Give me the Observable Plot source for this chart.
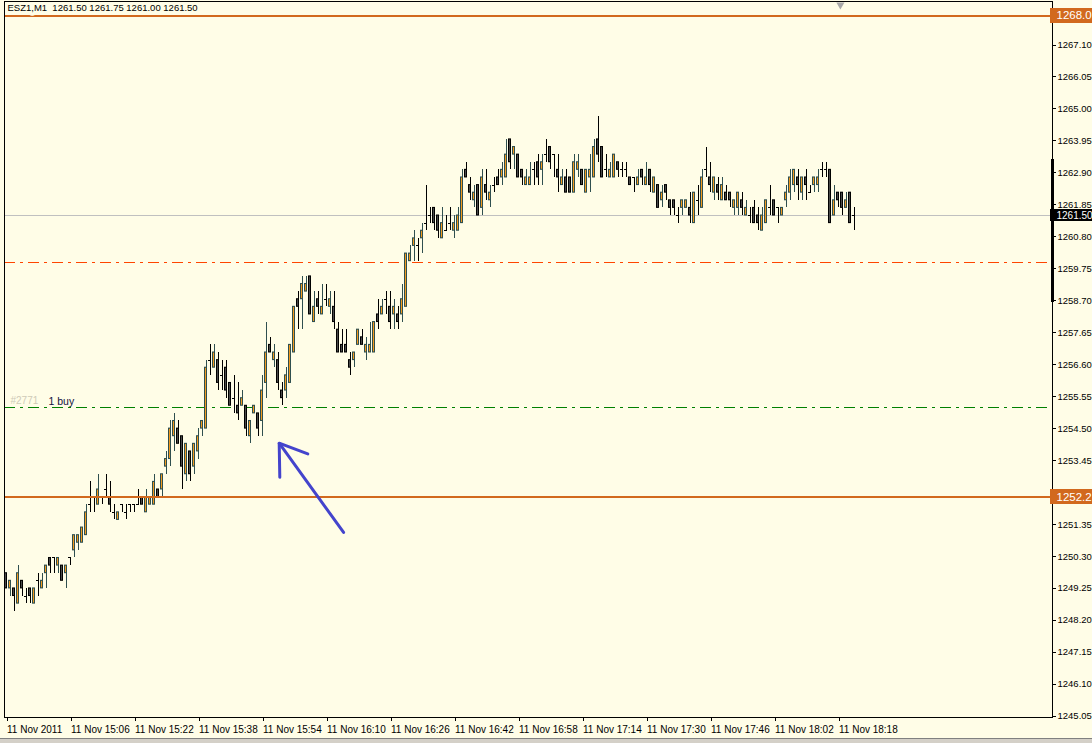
<!DOCTYPE html>
<html><head><meta charset="utf-8">
<script src="https://cdn.jsdelivr.net/npm/d3@7"></script>
<script src="https://cdn.jsdelivr.net/npm/@observablehq/plot@0.6"></script>
<style>
body{margin:0;background:#FFFDE7;overflow:hidden}
#chart svg{display:block}
#tabs{height:4px;background:#D4D0C8;border-top:1px solid #808080}
</style></head><body><div id="chart"></div><div id="tabs"></div>
<script>
const symbol = "ESZ1,M1";
const sessionDate = "2011-11-11";
const firstBarTime = "14:50";
const open = [
1249.75,1249.25,1249.25,1248.75,1249.5,1249.0,1249.25,1248.75,1249.5,1249.25,
1249.75,1250.25,1250.25,1250.0,1250.0,1249.75,1250.25,1250.5,1250.75,1250.75,
1251.0,1252.0,1252.25,1252.0,1252.25,1252.5,1252.25,1251.75,1251.5,1252.0,
1251.75,1252.0,1252.0,1252.0,1252.25,1251.75,1252.0,1252.0,1252.5,1252.5,
1253.25,1253.5,1254.25,1254.5,1254.25,1253.0,1253.75,1253.25,1253.75,1254.5,
1254.5,1256.75,1256.5,1256.75,1256.25,1256.5,1256.0,1255.5,1255.25,1255.25,
1255.25,1254.25,1255.0,1255.0,1254.75,1256.0,1257.25,1256.75,1256.75,1255.75,
1255.75,1256.0,1257.0,1258.75,1258.75,1259.0,1259.5,1258.0,1258.75,1258.25,
1258.75,1258.5,1258.5,1257.75,1257.25,1257.25,1256.75,1256.75,1257.25,1257.5,
1257.0,1257.0,1257.0,1258.25,1258.25,1258.75,1258.5,1258.25,1258.25,1258.25,
1258.5,1260.0,1260.5,1260.5,1260.75,1261.25,1261.5,1261.75,1261.5,1260.75,
1261.0,1261.25,1261.0,1261.0,1261.25,1263.0,1262.5,1262.0,1262.5,1261.75,
1262.5,1262.0,1262.5,1262.75,1262.75,1262.75,1264.0,1263.5,1263.5,1263.0,
1262.5,1262.5,1263.0,1263.25,1263.0,1263.5,1263.75,1263.5,1263.0,1262.5,
1262.75,1262.75,1262.25,1263.0,1263.0,1262.25,1262.75,1262.75,1264.0,1263.75,
1263.0,1262.75,1262.75,1263.25,1263.0,1263.0,1262.75,1262.75,1262.5,1263.0,
1262.5,1263.0,1262.25,1262.5,1262.0,1262.5,1262.0,1262.0,1261.5,1261.75,
1261.75,1261.75,1261.25,1262.0,1261.75,1263.0,1262.75,1262.25,1262.5,1262.0,
1262.25,1262.25,1261.75,1261.75,1262.0,1261.5,1261.5,1261.75,1261.5,1261.0,
1261.25,1261.75,1262.0,1261.75,1261.5,1262.0,1262.25,1262.5,1262.75,1262.25,
1262.75,1262.25,1262.5,1262.5,1263.0,1263.0,1263.0,1261.5,1262.25,1262.25,
1261.75,1262.25,1261.5];
const high = [
1249.75,1249.5,1249.25,1250.0,1249.5,1249.25,1249.25,1249.25,1249.75,1249.75,
1250.0,1250.25,1250.25,1250.25,1250.0,1250.0,1250.25,1251.0,1251.0,1251.25,
1252.0,1252.75,1252.25,1253.0,1252.25,1253.0,1252.75,1252.0,1251.75,1252.0,
1252.0,1252.0,1252.0,1252.5,1252.25,1252.5,1252.25,1253.0,1252.5,1253.0,
1253.75,1254.75,1255.0,1254.75,1254.25,1254.0,1253.75,1254.0,1254.5,1254.75,
1256.75,1257.25,1257.25,1257.0,1256.75,1256.75,1256.0,1256.25,1256.0,1255.75,
1255.25,1254.75,1255.25,1255.0,1256.25,1258.0,1257.5,1257.25,1257.0,1256.0,
1256.5,1257.25,1258.5,1259.0,1259.5,1259.5,1259.5,1259.0,1259.0,1259.25,
1259.25,1259.0,1259.0,1258.0,1257.75,1257.75,1257.0,1257.0,1257.75,1257.75,
1257.5,1258.0,1258.0,1258.75,1258.75,1259.0,1259.0,1258.75,1258.5,1259.25,
1260.25,1260.5,1261.0,1260.75,1261.25,1262.5,1261.75,1261.75,1261.5,1261.75,
1261.5,1261.75,1261.5,1261.75,1263.0,1263.25,1262.75,1262.5,1262.5,1263.0,
1263.0,1262.5,1262.75,1263.0,1263.25,1264.0,1264.0,1263.75,1263.5,1263.0,
1263.0,1263.25,1263.25,1263.5,1263.5,1264.0,1263.75,1263.5,1263.5,1263.0,
1263.0,1262.75,1263.5,1263.5,1263.0,1263.0,1263.5,1264.0,1264.75,1263.75,
1263.5,1263.25,1263.5,1263.25,1263.25,1263.25,1262.75,1262.75,1263.0,1263.0,
1263.25,1263.0,1262.75,1262.5,1262.5,1262.5,1262.0,1262.0,1261.75,1262.0,
1262.0,1262.25,1262.25,1262.5,1263.0,1263.75,1263.25,1262.75,1262.75,1262.75,
1262.5,1262.25,1262.0,1262.25,1262.25,1262.0,1261.75,1262.0,1261.75,1261.75,
1262.0,1262.5,1262.0,1261.75,1261.75,1262.5,1263.0,1263.0,1263.0,1262.75,
1263.0,1262.5,1262.75,1263.0,1263.25,1263.25,1263.0,1262.5,1262.25,1262.25,
1262.25,1262.25,1261.75];
const low = [
1249.25,1249.0,1248.5,1248.75,1249.0,1248.75,1248.75,1248.75,1249.0,1249.25,
1249.25,1249.75,1249.75,1249.75,1249.5,1249.25,1250.0,1250.25,1250.5,1250.75,
1251.0,1251.75,1251.75,1252.0,1252.0,1252.25,1251.75,1251.5,1251.5,1251.75,
1251.5,1251.75,1251.75,1252.0,1252.0,1251.75,1252.0,1252.0,1252.25,1252.25,
1253.0,1253.25,1253.75,1254.0,1252.5,1252.75,1252.75,1253.0,1253.5,1254.25,
1254.5,1256.25,1256.5,1255.75,1255.75,1255.5,1255.25,1255.0,1254.75,1255.25,
1254.25,1254.0,1255.0,1254.25,1254.25,1255.5,1257.0,1256.5,1255.75,1255.25,
1255.5,1256.0,1257.0,1257.75,1257.75,1259.0,1258.25,1258.0,1258.25,1258.25,
1258.5,1258.25,1257.75,1257.0,1257.0,1257.0,1256.25,1256.5,1257.25,1257.25,
1256.75,1257.0,1257.0,1257.75,1258.25,1258.25,1257.75,1257.75,1257.75,1258.0,
1258.5,1260.0,1260.0,1260.0,1260.25,1261.0,1261.25,1261.0,1260.75,1260.75,
1261.0,1261.0,1260.75,1261.0,1261.25,1262.75,1262.0,1261.75,1261.5,1261.5,
1262.0,1261.75,1262.25,1262.5,1262.5,1262.75,1263.0,1263.0,1262.75,1262.5,
1262.5,1262.5,1262.5,1262.5,1262.5,1263.25,1263.0,1262.75,1262.25,1262.5,
1262.25,1262.25,1262.25,1262.75,1262.5,1262.25,1262.25,1262.75,1263.25,1262.75,
1262.75,1262.75,1262.75,1262.75,1262.75,1262.75,1262.5,1262.25,1262.5,1262.5,
1262.5,1262.25,1262.25,1261.75,1261.75,1262.0,1261.5,1261.5,1261.25,1261.5,
1261.75,1261.25,1261.25,1261.5,1261.75,1262.75,1262.25,1262.0,1262.0,1262.0,
1262.0,1261.75,1261.5,1261.5,1261.5,1261.5,1261.25,1261.25,1261.0,1261.0,
1261.25,1261.5,1261.5,1261.25,1261.5,1261.75,1262.0,1262.25,1262.0,1262.0,
1262.0,1262.25,1262.25,1262.25,1262.75,1262.75,1261.25,1261.5,1261.75,1261.5,
1261.75,1261.25,1261.0];
const close = [
1249.25,1249.5,1249.0,1249.75,1249.25,1249.0,1249.0,1249.25,1249.5,1249.5,
1250.0,1250.0,1250.25,1250.25,1249.5,1250.0,1250.25,1251.0,1251.0,1251.25,
1251.75,1252.0,1252.25,1252.5,1252.25,1252.5,1252.0,1251.75,1251.75,1252.0,
1251.75,1252.0,1252.0,1252.0,1252.0,1252.25,1252.25,1252.75,1252.25,1253.0,
1253.5,1254.5,1254.75,1254.0,1253.25,1254.0,1253.0,1254.0,1254.25,1254.75,
1256.5,1256.75,1257.0,1256.0,1256.25,1255.75,1255.25,1255.5,1255.0,1255.5,
1254.5,1254.75,1255.25,1254.5,1255.75,1257.0,1257.0,1257.0,1256.0,1255.5,
1256.25,1257.25,1258.5,1258.5,1259.25,1259.25,1258.25,1258.5,1258.5,1258.5,
1258.75,1258.75,1258.0,1257.0,1257.0,1257.0,1256.5,1257.0,1257.75,1257.25,
1257.25,1257.25,1258.0,1258.0,1258.5,1258.75,1258.0,1258.5,1258.0,1258.75,
1260.25,1260.25,1260.75,1260.5,1261.0,1261.25,1261.5,1261.25,1261.0,1261.25,
1261.0,1261.25,1261.25,1261.5,1262.75,1262.75,1262.25,1262.25,1261.5,1262.75,
1262.25,1262.25,1262.5,1262.5,1263.0,1263.5,1263.25,1263.75,1262.75,1262.75,
1262.75,1262.75,1263.0,1262.75,1263.25,1263.5,1263.25,1263.5,1262.75,1262.75,
1262.25,1262.25,1263.25,1263.25,1262.5,1263.0,1263.0,1263.75,1263.5,1262.75,
1263.0,1263.0,1263.5,1263.0,1263.0,1263.0,1262.5,1262.75,1262.75,1262.75,
1262.75,1262.5,1262.75,1261.75,1262.25,1262.25,1261.75,1261.75,1261.5,1262.0,
1262.0,1261.5,1262.25,1262.0,1262.75,1263.0,1262.5,1262.75,1262.25,1262.5,
1262.0,1262.0,1262.0,1262.25,1261.75,1261.75,1261.5,1261.25,1261.25,1261.5,
1262.0,1261.75,1261.5,1261.75,1261.75,1262.25,1262.75,1263.0,1262.5,1262.75,
1262.5,1262.25,1262.75,1262.75,1263.0,1263.0,1261.25,1262.0,1262.0,1261.75,
1262.0,1261.25,1261.5];

const xTickTimes = ["14:50","15:06","15:22","15:38","15:54","16:10","16:26","16:42","16:58","17:14","17:30","17:46","18:02","18:18"];
const xTickLabels = ["11 Nov 2011","11 Nov 15:06","11 Nov 15:22","11 Nov 15:38","11 Nov 15:54","11 Nov 16:10","11 Nov 16:26","11 Nov 16:42","11 Nov 16:58","11 Nov 17:14","11 Nov 17:30","11 Nov 17:46","11 Nov 18:02","11 Nov 18:18"];
const yTicks = [1267.10,1266.05,1265.00,1263.95,1262.90,1261.85,1260.80,1259.75,1258.70,1257.65,1256.60,1255.55,1254.50,1253.45,1252.40,1251.35,1250.30,1249.25,1248.20,1247.15,1246.10,1245.05];
const yDomain = [1245.01, 1268.53];
const xDomainMinutes = [-0.375, 261.625];

const orangeLevels = [1268.06, 1252.25];
const orangeLabels = ["1268.0", "1252.2"];
const bidLevel = 1261.50;
const redLevel = 1259.97;
const buyLevel = 1255.20;
const buyLabelFaded = "#2771";
const buyLabel = "1 buy";
const rangeBar = [1258.65, 1263.35];
// arrow drawn on chart, [minutes from first bar, price]
const arrowHead = [[75.45, 1253.67], [68.3, 1254.02], [68.45, 1252.90]];
const arrowShaft = [[68.3, 1254.02], [84.4, 1251.09]];
const shiftMarker = [208.6, 1268.42];

// colors
const bg = "#FFFDE7";
const bullFill = "#F39A1E", bullEdge = "#2F4F4F";
const bearFill = "#4A4A4A", bearEdge = "#000000";
const orange = "#D2691E";

const t0 = Date.parse(`${sessionDate}T${firstBarTime}:00Z`);
const tm = m => new Date(t0 + m * 60000);
const bars = open.map((o, i) => ({t: tm(i), i, o, h: high[i], l: low[i], c: close[i]}));
const ups = bars.filter(d => d.c > d.o), downs = bars.filter(d => d.c < d.o), dojis = bars.filter(d => d.c === d.o);
const last = bars[bars.length - 1];
const header = `${symbol}  ${last.o.toFixed(2)} ${last.h.toFixed(2)} ${last.l.toFixed(2)} ${last.c.toFixed(2)}`;
const tickDates = xTickTimes.map(s => new Date(Date.parse(`${sessionDate}T${s}:00Z`)));
const labelOf = new Map(tickDates.map((d, k) => [+d, xTickLabels[k]]));
const xMin = tm(xDomainMinutes[0]), xMax = tm(xDomainMinutes[1]);
const off = (d, pxs) => new Date(+d + (pxs / 4) * 60000); // 4 px per one-minute bar

const boxes = [
  {p: orangeLevels[0], label: orangeLabels[0], fill: orange, h: 0.24, size: 11.5},
  {p: bidLevel, label: bidLevel.toFixed(2), fill: "#000", h: 0.2, size: 10},
  {p: orangeLevels[1], label: orangeLabels[1], fill: orange, h: 0.24, size: 11.5}
];

const crisp = {shapeRendering: "crispEdges"};
const chart = Plot.plot({
  width: 1092, height: 738,
  marginLeft: 4, marginRight: 40, marginTop: 1, marginBottom: 21,
  style: {background: bg, fontFamily: "'Liberation Sans', Arial, sans-serif", fontSize: "10px", color: "#000"},
  x: {type: "utc", domain: [xMin, xMax], label: null},
  y: {domain: yDomain, label: null},
  marks: [
    Plot.ruleY([bidLevel], {stroke: "#C0C0C0", ...crisp}),
    Plot.ruleY([redLevel], {stroke: "#FF4500", strokeDasharray: "11,5,3,5", ...crisp}),
    Plot.ruleY([buyLevel], {stroke: "#008000", strokeDasharray: "11,5,3,5", ...crisp}),
    Plot.text([buyLabelFaded], {x: () => xMin, y: () => buyLevel, dx: 6, dy: -6, textAnchor: "start", fill: "#CFCBB8", fontSize: 10}),
    Plot.text([buyLabel], {x: () => xMin, y: () => buyLevel, dx: 44, dy: -6, textAnchor: "start", fill: "#101040", fontSize: 10.5}),
    // wicks
    Plot.ruleX(ups, {x: "t", y1: "l", y2: "h", stroke: bullEdge, ...crisp}),
    Plot.ruleX(downs.concat(dojis), {x: "t", y1: "l", y2: "h", stroke: bearEdge, ...crisp}),
    // bodies: outer edge rect + inner fill rect
    Plot.rect(ups, {x1: d => off(d.t, -1.5), x2: d => off(d.t, 1.5), y1: "o", y2: "c", fill: bullEdge, insetTop: -0.5, insetBottom: -0.5}),
    Plot.rect(ups, {x1: d => off(d.t, -0.5), x2: d => off(d.t, 0.5), y1: "o", y2: "c", fill: bullFill, insetTop: 0.6, insetBottom: 0.6}),
    Plot.rect(downs, {x1: d => off(d.t, -1.5), x2: d => off(d.t, 1.5), y1: "o", y2: "c", fill: bearEdge, insetTop: -0.5, insetBottom: -0.5}),
    Plot.rect(downs, {x1: d => off(d.t, -0.5), x2: d => off(d.t, 0.5), y1: "o", y2: "c", fill: bearFill, insetTop: 0.6, insetBottom: 0.6}),
    Plot.ruleY(dojis, {y: "o", x1: d => off(d.t, -1.5), x2: d => off(d.t, 1.5), stroke: bearEdge, ...crisp}),
    // solid orange levels
    Plot.ruleY(orangeLevels, {stroke: orange, strokeWidth: 2, ...crisp}),
    // arrow
    Plot.line(arrowHead, {x: d => tm(d[0]), y: d => d[1], stroke: "#4444CC", strokeWidth: 3, strokeLinejoin: "miter"}),
    Plot.line(arrowShaft, {x: d => tm(d[0]), y: d => d[1], stroke: "#4444CC", strokeWidth: 3}),
    // header
    Plot.text([header], {frameAnchor: "top-left", dx: 3, dy: 3, textAnchor: "start", lineAnchor: "top", fill: "#000", stroke: bg, strokeWidth: 7, fontSize: 9.5}),
    // shift marker
    Plot.dot([shiftMarker], {x: d => tm(d[0]), y: d => d[1], symbol: "triangle", r: 3, fill: "#A8A8A8", rotate: 180}),
    // axes
    Plot.axisX({ticks: tickDates, tickFormat: d => labelOf.get(+d), textAnchor: "start", dx: 1, tickSize: 4, tickPadding: 4, fill: "#000", label: null, ...crisp}),
    Plot.axisY({anchor: "right", ticks: yTicks, tickFormat: d => d.toFixed(2), tickSize: 3, tickPadding: 2, fill: "#000", fontSize: 9.5, label: null, ...crisp}),
    Plot.frame({stroke: "#000", ...crisp}),
    // range bar at right edge
    Plot.ruleX([xMax], {y1: () => rangeBar[0], y2: () => rangeBar[1], stroke: "#000", strokeWidth: 3, dx: -0.5, ...crisp}),
    // price boxes
    Plot.rect(boxes, {x1: () => off(xMax, -2), x2: () => off(xMax, 40), y1: d => d.p - d.h, y2: d => d.p + d.h, fill: d => d.fill, ...crisp}),
    Plot.text(boxes, {x: () => xMax, y: "p", text: "label", dx: 4, textAnchor: "start", fill: "#fff", fontSize: d => d.size})
  ]
});
document.getElementById("chart").appendChild(chart);
</script></body></html>
